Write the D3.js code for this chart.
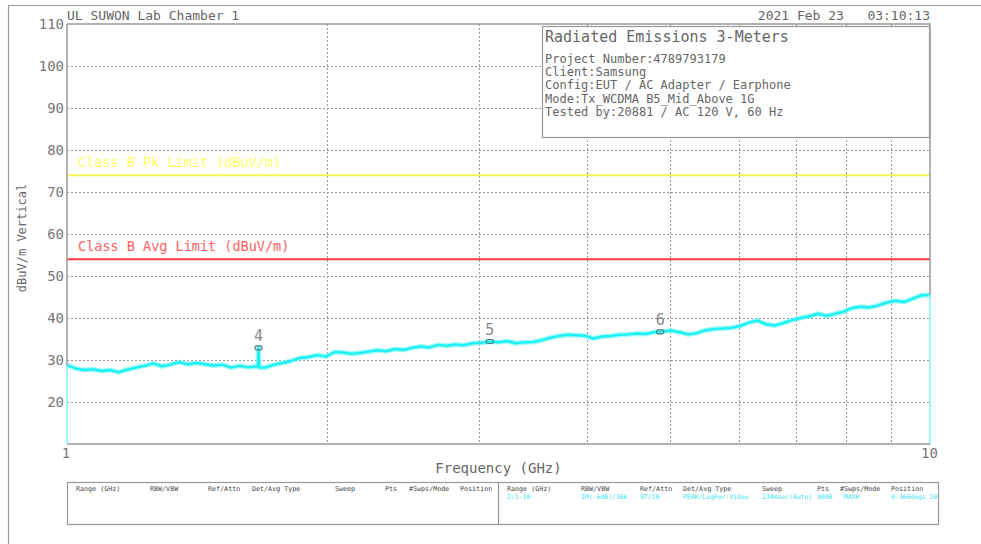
<!DOCTYPE html>
<html>
<head>
<meta charset="utf-8">
<script src="https://cdn.jsdelivr.net/npm/d3@7"></script>
<style>
	body { margin: 0; background: #fff; }
	text { font-family: "DejaVu Sans Mono", monospace; fill: #666; white-space: pre; }
</style>
</head>
<body>
<div id="chart"></div>
<script>
var w = 981;
var h = 544;
var plotLeft = 67, plotRight = 930, plotTop = 24, plotBottom = 444;

// trace, frequency in GHz and level in dBuV/m
var freqs = [1.000, 1.023, 1.047, 1.072, 1.096, 1.122, 1.148, 1.175, 1.202, 1.230,
	1.259, 1.288, 1.318, 1.349, 1.380, 1.413, 1.445, 1.479, 1.514, 1.549,
	1.585, 1.622, 1.660, 1.664, 1.667, 1.670, 1.698, 1.738, 1.778, 1.820, 1.862,
	1.905, 1.950, 1.995, 2.042, 2.089, 2.138, 2.188, 2.239, 2.291, 2.344,
	2.399, 2.455, 2.512, 2.570, 2.630, 2.692, 2.754, 2.818, 2.884, 2.951,
	3.020, 3.090, 3.162, 3.236, 3.311, 3.388, 3.467, 3.548, 3.631, 3.715,
	3.802, 3.890, 3.981, 4.074, 4.169, 4.266, 4.365, 4.467, 4.571, 4.677,
	4.786, 4.898, 5.012, 5.129, 5.248, 5.370, 5.495, 5.623, 5.754, 5.888,
	6.026, 6.166, 6.310, 6.457, 6.607, 6.761, 6.918, 7.079, 7.244, 7.413,
	7.586, 7.762, 7.943, 8.128, 8.318, 8.511, 8.710, 8.913, 9.120, 9.333,
	9.550, 9.772, 10.000];
var levels = [28.8, 28.0, 27.6, 27.8, 27.4, 27.6, 27.1, 27.7, 28.2, 28.6,
	29.2, 28.5, 28.9, 29.5, 29.0, 29.3, 29.0, 28.7, 28.9, 28.2,
	28.6, 28.3, 28.5, 28.4, 32.9, 28.2, 28.2, 28.9, 29.3, 29.8, 30.5,
	30.7, 31.2, 30.8, 31.9, 31.8, 31.5, 31.7, 32.0, 32.3, 32.1,
	32.6, 32.4, 32.9, 33.2, 33.0, 33.6, 33.4, 33.7, 33.5, 34.0,
	34.1, 34.4, 34.2, 34.5, 34.0, 34.2, 34.3, 34.7, 35.3, 35.7,
	36.0, 35.9, 35.8, 35.1, 35.6, 35.7, 36.0, 36.1, 36.3, 36.2,
	36.6, 36.8, 37.0, 36.6, 36.1, 36.4, 37.1, 37.4, 37.5, 37.7,
	38.1, 38.9, 39.4, 38.5, 38.2, 38.8, 39.5, 40.0, 40.4, 41.0,
	40.5, 41.0, 41.5, 42.4, 42.7, 42.5, 43.0, 43.7, 44.1, 43.8,
	44.6, 45.4, 45.5];

var markerNames = ["4", "5", "6"];
var markerFreqs = [1.667, 3.09, 4.87];
var markerLevels = [32.9, 34.4, 36.7];

var limitNames = ["Class B Pk Limit (dBuV/m)", "Class B Avg Limit (dBuV/m)"];
var limitValues = [74, 54];
var limitColors = ["#f6f65a", "#ff3a3a"];
var limitTextColors = ["#ffff66", "#ff6060"];

var yTicks = [20, 30, 40, 50, 60, 70, 80, 90, 100, 110];
var xGrid = [2, 3, 4, 5, 6, 7, 8, 9];

var infoLines = ["Project Number:4789793179", "Client:Samsung", "Config:EUT / AC Adapter / Earphone",
	"Mode:Tx_WCDMA B5_Mid_Above 1G", "Tested by:20881 / AC 120 V, 60 Hz"];

var tableHeads = ["Range (GHz)", "RBW/VBW", "Ref/Attn", "Det/Avg Type", "Sweep", "Pts", "#Swps/Mode", "Position"];
var tableValues = ["2:1-10", "1M(-6dB)/30k", "97/10", "PEAK/LogPwr-Video", "234msec(Auto)", "9000", " MAXH", "0-360degs 20"];
var colLeft = [76, 150, 208, 252, 335, 385, 409, 460];
var colRight = [507, 581, 640, 683, 762, 817, 840, 891];

var svg = d3.select("#chart")
			.append("svg")
			.attr("width", w)
			.attr("height", h);

var xScale = d3.scaleLog()
			.domain([1, 10])
			.range([plotLeft, plotRight]);

var yScale = d3.scaleLinear()
			.domain([10, 110])
			.range([plotBottom, plotTop]);

// outer frame
svg.append("path")
	.attr("d", "M8.5,544V5.5H981")
	.attr("fill", "none")
	.attr("stroke", "#999")
	.attr("stroke-width", 1.2);

// grid
svg.selectAll(".hgrid")
	.data(yTicks.filter(function(d) { return d < 110; }))
	.enter()
	.append("line")
	.attr("x1", plotLeft)
	.attr("x2", plotRight)
	.attr("y1", function(d) { return Math.round(yScale(d)) + 0.5; })
	.attr("y2", function(d) { return Math.round(yScale(d)) + 0.5; })
	.attr("stroke", "#999")
	.attr("stroke-dasharray", "2,2");

svg.selectAll(".vgrid")
	.data(xGrid)
	.enter()
	.append("line")
	.attr("x1", function(d) { return Math.round(xScale(d)) + 0.5; })
	.attr("x2", function(d) { return Math.round(xScale(d)) + 0.5; })
	.attr("y1", plotTop)
	.attr("y2", plotBottom)
	.attr("stroke", "#999")
	.attr("stroke-dasharray", "2,2");

// tick labels
svg.selectAll(".ylab")
	.data(yTicks)
	.enter()
	.append("text")
	.attr("x", plotLeft - 3)
	.attr("y", function(d) { return yScale(d) + 5; })
	.attr("text-anchor", "end")
	.style("font-size", "14px")
	.style("fill", "#777")
	.text(function(d) { return d; });

svg.selectAll(".xlab")
	.data([1, 10])
	.enter()
	.append("text")
	.attr("x", function(d) { return xScale(d); })
	.attr("y", plotBottom + 14)
	.attr("text-anchor", function(d) { return d === 1 ? "middle" : "start"; })
	.attr("dx", function(d) { return d === 1 ? -1 : -9; })
	.style("font-size", "14px")
	.style("fill", "#777")
	.text(function(d) { return d; });

// limit lines
svg.selectAll(".limit")
	.data(limitValues)
	.enter()
	.append("line")
	.attr("x1", plotLeft)
	.attr("x2", plotRight)
	.attr("y1", function(d) { return yScale(d); })
	.attr("y2", function(d) { return yScale(d); })
	.attr("stroke", function(d, i) { return limitColors[i]; })
	.attr("stroke-width", 2);

svg.selectAll(".limitText")
	.data(limitValues)
	.enter()
	.append("text")
	.attr("x", plotLeft + 11)
	.attr("y", function(d) { return yScale(d) - 8; })
	.style("font-size", "13.5px")
	.style("fill", function(d, i) { return limitTextColors[i]; })
	.text(function(d, i) { return limitNames[i]; });

// trace
var traceData = freqs.map(function(f, i) { return [f, levels[i]]; });

var line = d3.line()
	.x(function(d) { return xScale(d[0]); })
	.y(function(d) { return yScale(d[1]); });

svg.append("path")
	.datum(traceData)
	.attr("d", line)
	.attr("fill", "none")
	.attr("stroke", "#66f6f6")
	.attr("stroke-width", 5)
	.attr("stroke-opacity", 0.6)
	.attr("stroke-linejoin", "round");

svg.append("path")
	.datum(traceData)
	.attr("d", line)
	.attr("fill", "none")
	.attr("stroke", "#1ef0f4")
	.attr("stroke-width", 2.5)
	.attr("stroke-linejoin", "round");

// vertical ends of the sweep
svg.selectAll(".traceEnd")
	.data([traceData[0], traceData[traceData.length - 1]])
	.enter()
	.append("line")
	.attr("x1", function(d) { return xScale(d[0]); })
	.attr("x2", function(d) { return xScale(d[0]); })
	.attr("y1", function(d) { return yScale(d[1]); })
	.attr("y2", plotBottom)
	.attr("stroke", "#7ff5f5")
	.attr("stroke-width", 1.5);

// plot border
svg.append("path")
	.attr("d", "M" + plotLeft + "," + plotTop + "H" + plotRight + "V" + yScale(levels[levels.length - 1]) +
		"M" + plotLeft + "," + yScale(levels[0]) + "V" + plotTop +
		"M" + plotLeft + "," + plotBottom + "H" + plotRight)
	.attr("fill", "none")
	.attr("stroke", "#999")
	.attr("stroke-width", 1.5);

// markers
svg.selectAll(".marker")
	.data(markerFreqs)
	.enter()
	.append("rect")
	.attr("x", function(d) { return xScale(d) - 3.5; })
	.attr("y", function(d, i) { return yScale(markerLevels[i]) - 2; })
	.attr("width", 7)
	.attr("height", 4)
	.attr("rx", 1.5)
	.attr("fill", "none")
	.attr("stroke", "#557a7a")
	.attr("stroke-width", 1.2);

svg.selectAll(".markerText")
	.data(markerFreqs)
	.enter()
	.append("text")
	.attr("x", function(d) { return xScale(d); })
	.attr("y", function(d, i) { return yScale(markerLevels[i]) - 7; })
	.attr("text-anchor", "middle")
	.style("font-size", "15px")
	.style("fill", "#888")
	.text(function(d, i) { return markerNames[i]; });

// header texts
svg.append("text")
	.attr("x", plotLeft)
	.attr("y", 20)
	.style("font-size", "13px")
	.text("UL SUWON Lab Chamber 1");

svg.append("text")
	.attr("x", plotRight)
	.attr("y", 20)
	.attr("text-anchor", "end")
	.style("font-size", "13px")
	.text("2021 Feb 23   03:10:13");

// info box
svg.append("rect")
	.attr("x", 542.5)
	.attr("y", 26.5)
	.attr("width", 387)
	.attr("height", 111)
	.attr("fill", "#fff")
	.attr("stroke", "#999")
	.attr("stroke-width", 1.2);

svg.append("text")
	.attr("x", 545)
	.attr("y", 42)
	.style("font-size", "15px")
	.text("Radiated Emissions 3-Meters");

svg.selectAll(".info")
	.data(infoLines)
	.enter()
	.append("text")
	.attr("x", 545)
	.attr("y", function(d, i) { return 63 + i * 13.2; })
	.style("font-size", "12px")
	.text(function(d) { return d; });

// axis titles
svg.append("text")
	.attr("x", (plotLeft + plotRight) / 2)
	.attr("y", 473)
	.attr("text-anchor", "middle")
	.style("font-size", "14px")
	.text("Frequency (GHz)");

svg.append("text")
	.attr("transform", "translate(26,238) rotate(-90)")
	.attr("text-anchor", "middle")
	.style("font-size", "12px")
	.text("dBuV/m Vertical");

// sweep table
svg.append("rect")
	.attr("x", plotLeft + 0.5)
	.attr("y", 482.5)
	.attr("width", 871)
	.attr("height", 42)
	.attr("fill", "none")
	.attr("stroke", "#999")
	.attr("stroke-width", 1.2);

svg.append("line")
	.attr("x1", 498.5)
	.attr("x2", 498.5)
	.attr("y1", 482)
	.attr("y2", 525)
	.attr("stroke", "#999")
	.attr("stroke-width", 1.2);

svg.selectAll(".headL")
	.data(tableHeads)
	.enter()
	.append("text")
	.attr("x", function(d, i) { return colLeft[i]; })
	.attr("y", 491)
	.style("font-size", "6.7px")
	.style("fill", "#444")
	.text(function(d) { return d; });

svg.selectAll(".headR")
	.data(tableHeads)
	.enter()
	.append("text")
	.attr("x", function(d, i) { return colRight[i]; })
	.attr("y", 491)
	.style("font-size", "6.7px")
	.style("fill", "#444")
	.text(function(d) { return d; });

svg.append("clipPath")
	.attr("id", "tableClip")
	.append("rect")
	.attr("x", 499)
	.attr("y", 483)
	.attr("width", 439)
	.attr("height", 40);

svg.selectAll(".valR")
	.data(tableValues)
	.enter()
	.append("text")
	.attr("x", function(d, i) { return colRight[i]; })
	.attr("y", 499)
	.attr("clip-path", "url(#tableClip)")
	.style("font-size", "6.4px")
	.style("fill", "#33e6f0")
	.text(function(d) { return d; });
</script>
</body>
</html>
